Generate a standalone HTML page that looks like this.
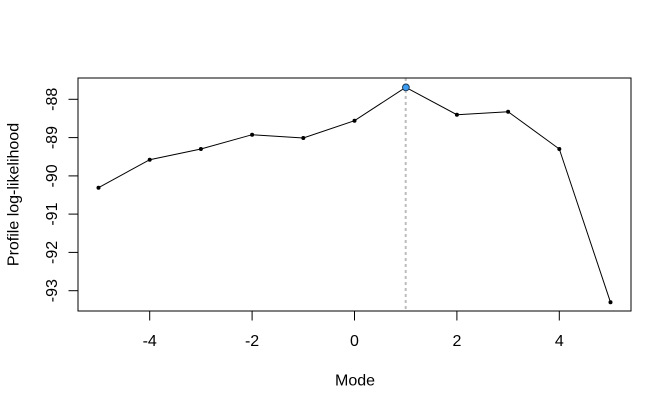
<!DOCTYPE html>
<html>
<head>
<meta charset="utf-8">
<style>
html,body{margin:0;padding:0;background:#fff;}
svg{display:block;}
text{font-family:"Liberation Sans",Arial,sans-serif;font-size:16px;fill:#000;}
</style>
</head>
<body>
<svg width="672" height="409" viewBox="0 0 672 409" xmlns="http://www.w3.org/2000/svg">
<rect x="0" y="0" width="672" height="409" fill="#fff"/>
<!-- dashed vertical line at mode -->
<line x1="405.7" y1="78" x2="405.7" y2="311" stroke="#bdbdbd" stroke-width="2" stroke-dasharray="3,3"/>
<!-- plot box -->
<rect x="78" y="78" width="553" height="233" fill="none" stroke="#000" stroke-width="1"/>
<!-- y ticks -->
<g stroke="#000" stroke-width="1">
<line x1="68.5" y1="99.3" x2="78" y2="99.3"/>
<line x1="68.5" y1="137.6" x2="78" y2="137.6"/>
<line x1="68.5" y1="175.9" x2="78" y2="175.9"/>
<line x1="68.5" y1="214.1" x2="78" y2="214.1"/>
<line x1="68.5" y1="252.4" x2="78" y2="252.4"/>
<line x1="68.5" y1="290.7" x2="78" y2="290.7"/>
<!-- x ticks -->
<line x1="149.7" y1="311" x2="149.7" y2="320.5"/>
<line x1="252.1" y1="311" x2="252.1" y2="320.5"/>
<line x1="354.5" y1="311" x2="354.5" y2="320.5"/>
<line x1="456.9" y1="311" x2="456.9" y2="320.5"/>
<line x1="559.3" y1="311" x2="559.3" y2="320.5"/>
</g>
<!-- y tick labels -->
<g text-anchor="middle">
<text transform="translate(57,99.3) rotate(-90)">-88</text>
<text transform="translate(57,137.6) rotate(-90)">-89</text>
<text transform="translate(57,175.9) rotate(-90)">-90</text>
<text transform="translate(57,214.1) rotate(-90)">-91</text>
<text transform="translate(57,252.4) rotate(-90)">-92</text>
<text transform="translate(57,290.7) rotate(-90)">-93</text>
</g>
<!-- x tick labels -->
<g text-anchor="middle">
<text x="149.7" y="346">-4</text>
<text x="252.1" y="346">-2</text>
<text x="354.5" y="346">0</text>
<text x="456.9" y="346">2</text>
<text x="559.3" y="346">4</text>
</g>
<!-- axis titles -->
<text x="355" y="385.7" text-anchor="middle">Mode</text>
<text transform="translate(18.5,194.5) rotate(-90)" text-anchor="middle">Profile log-likelihood</text>
<!-- series -->
<polyline fill="none" stroke="#000" stroke-width="1" points="98.5,187.7 149.7,159.7 200.9,149 252.1,134.7 303.3,138 354.5,120.7 405.7,87.3 456.9,114.7 508.1,111.7 559.3,149 610.5,302.3"/>
<g fill="#000">
<circle cx="98.5" cy="187.7" r="2"/>
<circle cx="149.7" cy="159.7" r="2"/>
<circle cx="200.9" cy="149" r="2"/>
<circle cx="252.1" cy="134.7" r="2"/>
<circle cx="303.3" cy="138" r="2"/>
<circle cx="354.5" cy="120.7" r="2"/>
<circle cx="456.9" cy="114.7" r="2"/>
<circle cx="508.1" cy="111.7" r="2"/>
<circle cx="559.3" cy="149" r="2"/>
<circle cx="610.5" cy="302.3" r="2"/>
</g>
<circle cx="405.9" cy="87.4" r="3.4" fill="#3b9bef" stroke="#1b3550" stroke-width="0.9"/>
</svg>
</body>
</html>
